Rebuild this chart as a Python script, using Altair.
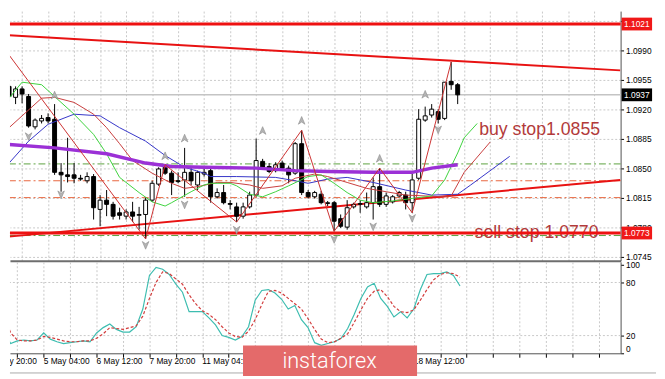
import altair as alt
import pandas as pd

# ---------------- data ----------------
opens = [1.0947, 1.0934, 1.0944, 1.0935, 1.0899, 1.0906, 1.0910, 1.0908, 1.0845, 1.0842,
         1.0842, 1.0838, 1.0835, 1.0840, 1.0801, 1.0812, 1.0807, 1.0797, 1.0793, 1.0798,
         1.0794, 1.0795, 1.0812, 1.0831, 1.0851, 1.0844, 1.0835, 1.0836, 1.0845, 1.0830,
         1.0843, 1.0847, 1.0816, 1.0821, 1.0808, 1.0804, 1.0793, 1.0804, 1.0818, 1.0858,
         1.0852, 1.0847, 1.0856, 1.0850, 1.0844, 1.0879, 1.0821, 1.0816, 1.0819, 1.0808,
         1.0809, 1.0790, 1.0780, 1.0804, 1.0807, 1.0804, 1.0809, 1.0828, 1.0807, 1.0810,
         1.0817, 1.0818, 1.0809, 1.0838, 1.0907, 1.0913, 1.0917, 1.0909, 1.0953, 1.0949]
highs = [1.0950, 1.0947, 1.0947, 1.0938, 1.0909, 1.0913, 1.0915, 1.0926, 1.0856, 1.0886,
         1.0856, 1.0842, 1.0845, 1.0843, 1.0818, 1.0824, 1.0810, 1.0803, 1.0801, 1.0810,
         1.0804, 1.0815, 1.0835, 1.0851, 1.0854, 1.0847, 1.0845, 1.0874, 1.0850, 1.0847,
         1.0849, 1.0850, 1.0826, 1.0830, 1.0812, 1.0809, 1.0809, 1.0822, 1.0885, 1.0861,
         1.0856, 1.0857, 1.0859, 1.0853, 1.0881, 1.0895, 1.0824, 1.0823, 1.0823, 1.0811,
         1.0811, 1.0795, 1.0812, 1.0809, 1.0812, 1.0821, 1.0839, 1.0850, 1.0821, 1.0818,
         1.0823, 1.0822, 1.0843, 1.0920, 1.0923, 1.0926, 1.0920, 1.0952, 1.0976, 1.0951]
lows = [1.0929, 1.0926, 1.0927, 1.0898, 1.0896, 1.0903, 1.0903, 1.0842, 1.0822, 1.0833,
        1.0832, 1.0835, 1.0832, 1.0789, 1.0781, 1.0793, 1.0789, 1.0789, 1.0789, 1.0786,
        1.0777, 1.0766, 1.0810, 1.0829, 1.0842, 1.0818, 1.0832, 1.0816, 1.0830, 1.0824,
        1.0840, 1.0809, 1.0814, 1.0807, 1.0801, 1.0786, 1.0790, 1.0802, 1.0816, 1.0849,
        1.0844, 1.0845, 1.0847, 1.0832, 1.0842, 1.0818, 1.0814, 1.0814, 1.0807, 1.0805,
        1.0775, 1.0779, 1.0777, 1.0802, 1.0797, 1.0802, 1.0789, 1.0804, 1.0804, 1.0808,
        1.0815, 1.0801, 1.0797, 1.0836, 1.0905, 1.0910, 1.0903, 1.0907, 1.0943, 1.0926]
closes = [1.0935, 1.0944, 1.0938, 1.0900, 1.0907, 1.0909, 1.0906, 1.0845, 1.0842, 1.0840,
          1.0838, 1.0837, 1.0840, 1.0803, 1.0812, 1.0807, 1.0793, 1.0794, 1.0798, 1.0793,
          1.0795, 1.0812, 1.0832, 1.0849, 1.0844, 1.0833, 1.0834, 1.0845, 1.0835, 1.0845,
          1.0845, 1.0816, 1.0821, 1.0809, 1.0807, 1.0793, 1.0804, 1.0818, 1.0859, 1.0851,
          1.0846, 1.0854, 1.0850, 1.0842, 1.0879, 1.0821, 1.0816, 1.0821, 1.0809, 1.0809,
          1.0787, 1.0781, 1.0803, 1.0807, 1.0808, 1.0809, 1.0828, 1.0807, 1.0817, 1.0816,
          1.0821, 1.0809, 1.0836, 1.0908, 1.0912, 1.0920, 1.0908, 1.0952, 1.0949, 1.0937]

# moving averages (bar index, price)
ma_idx = [0, 7, 15, 21, 25, 30, 38, 44, 49, 56, 62, 65, 69]
ma_val = [1.0878, 1.0874, 1.0867, 1.0856, 1.0852, 1.0851, 1.0850, 1.0847, 1.0846, 1.0845, 1.0845, 1.0850, 1.0854]

lips_idx = [0, 2, 5, 7, 10, 13, 15, 17, 20, 22, 24, 25, 28, 30, 31, 34, 35, 37, 39, 41, 43, 46, 48,
            50, 52, 54, 56, 59, 62, 65, 67, 69, 70, 72]
lips_val = [1.0933, 1.0952, 1.0949, 1.0935, 1.0914, 1.0890, 1.0867, 1.0839, 1.0821, 1.0810, 1.0805,
            1.0809, 1.0822, 1.0830, 1.0832, 1.0832, 1.0829, 1.0819, 1.0816, 1.0822, 1.0829, 1.0840,
            1.0842, 1.0832, 1.0821, 1.0812, 1.0809, 1.0811, 1.0814, 1.0817, 1.0836, 1.0868, 1.0886, 1.0903]

teeth_idx = [0, 5, 7, 10, 13, 15, 17, 19, 22, 25, 27, 29, 32, 34, 37, 39, 42, 44, 47, 49, 52, 55, 58,
             61, 64, 67, 68, 70, 74]
teeth_val = [1.0898, 1.0933, 1.0934, 1.0928, 1.0914, 1.0898, 1.0879, 1.0859, 1.0844, 1.0832, 1.0826,
             1.0828, 1.0833, 1.0833, 1.0830, 1.0826, 1.0829, 1.0838, 1.0843, 1.0840, 1.0833, 1.0826,
             1.0822, 1.0818, 1.0817, 1.0816, 1.0817, 1.0845, 1.0881]

jaw_idx = [0, 3, 6, 10, 14, 17, 21, 24, 27, 30, 31, 35, 41, 44, 46, 49, 52, 56, 61, 65, 69, 71, 77]
jaw_val = [1.0856, 1.0882, 1.0902, 1.0914, 1.0912, 1.0898, 1.0882, 1.0865, 1.0851, 1.0844, 1.0840,
           1.0840, 1.0839, 1.0835, 1.0832, 1.0837, 1.0839, 1.0833, 1.0824, 1.0818, 1.0819, 1.0830, 1.0864]

zz_idx = [-2, 21, 24, 35, 45, 50, 57, 62, 68]
zz_val = [1.1005, 1.0766, 1.0854, 1.0786, 1.0895, 1.0775, 1.0850, 1.0797, 1.0976]

frac_up_idx = [7, 24, 27, 39, 45, 57, 64]
frac_up_val = [1.0936, 1.0864, 1.0885, 1.0894, 1.0906, 1.0861, 1.0937]
frac_dn_idx = [3, 8, 21, 27, 35, 50, 56, 62, 66]
frac_dn_val = [1.0888, 1.0819, 1.0759, 1.0807, 1.0777, 1.0766, 1.0781, 1.0791, 1.0896]

# trend lines (two end points each)
trend_idx = [-1, 94]
trend_down = [1.1008, 1.0966]
trend_up = [1.0768, 1.0836]

# horizontal levels
thick_levels = [1.1021, 1.0773]
green_levels = [1.0855, 1.0770]
orange_levels = [1.0835, 1.0815]
current_price = 1.0937

box_prices = [1.1021, 1.0937, 1.0773]
box_labels = ["1.1021", "1.0937", "1.0773"]
box_colors = ["#f01818", "#000000", "#f01818"]

note_texts = ["buy stop1.0855", "sell stop 1.0770"]
note_idx = [72.3, 71.6]
note_val = [1.0889, 1.0767]

price_ticks = [1.0745, 1.0780, 1.0815, 1.0850, 1.0885, 1.0920, 1.0955, 1.0990, 1.1025]

stoch_main = [24, 11, 14, 15, 14, 15, 23, 16, 13, 11,
              12, 13, 14, 13, 23, 29, 33, 27, 24, 24,
              30, 50, 88, 97, 95, 89, 78, 69, 47, 47,
              47, 40, 32, 20, 18, 15, 19, 30, 60, 71,
              72, 68, 61, 50, 54, 38, 29, 12, 9, 11,
              13, 17, 28, 44, 62, 75, 79, 62, 53, 41,
              47, 40, 50, 72, 89, 90, 90, 92, 88, 76]
stoch_signal = [42, 23, 15, 14, 14, 15, 19, 18, 16, 14,
                13, 13, 14, 14, 17, 22, 29, 28, 27, 29,
                31, 42, 62, 80, 92, 90, 84, 78, 66, 56,
                48, 44, 38, 30, 23, 19, 18, 25, 38, 55,
                70, 71, 68, 62, 56, 50, 39, 27, 16, 12,
                13, 17, 22, 35, 49, 62, 70, 72, 64, 53,
                47, 46, 49, 60, 72, 83, 89, 91, 90, 86]

time_label_idx = [-2, 6, 14, 22, 30, 38, 46, 54, 62]
time_labels = ["4 May 20:00", "5 May 04:00", "6 May 12:00", "7 May 20:00", "11 May 04:00",
               "12 May 12:00", "13 May 20:00", "15 May 04:00", "18 May 12:00"]
grid_idx = list(range(2, 94, 4))

# ---------------- layout ----------------
W, H1, H2, H3 = 621, 254, 93, 20
XDOM = [0.893, 93.304]
YDOM = [1.073995, 1.103636]
FONT = "Liberation Sans"

candles = pd.DataFrame({"i": list(range(len(opens))), "o": opens, "h": highs, "l": lows, "c": closes})

xs = alt.Scale(domain=XDOM, nice=False, zero=False)
ys = alt.Scale(domain=YDOM, nice=False, zero=False)
x_axis_p = alt.Axis(values=grid_idx, labels=False, ticks=False, domain=True, domainColor="#6e6e6e",
                    domainWidth=2, grid=True, gridDash=[2, 2], gridColor="#c8c8c8", title=None)
y_axis_p = alt.Axis(orient="right", values=price_ticks, format=".4f", tickSize=3, tickColor="#000",
                    labelPadding=2, labelFontSize=8.5, labelFont=FONT, labelColor="#000",
                    domain=True, domainColor="#505050", grid=True, gridDash=[2, 2],
                    gridColor="#c8c8c8", title=None)


def X(f):
    return alt.X(f, type="quantitative", scale=xs, axis=x_axis_p)


def Y(f):
    return alt.Y(f, type="quantitative", scale=ys, axis=y_axis_p)


def line_df(ix, vals):
    return pd.DataFrame({"i": ix, "p": vals})


base_levels = pd.DataFrame({"p": green_levels + orange_levels,
                            "col": ["#5aa03c"] * 2 + ["#e8643c"] * 2})
dashdot = alt.Chart(base_levels).mark_rule(strokeWidth=1, strokeDash=[7, 3, 2, 3]).encode(
    y=Y("p"), color=alt.Color("col:N", scale=None))
cur_line = alt.Chart(pd.DataFrame({"p": [current_price]})).mark_rule(color="#c4c4c4", strokeWidth=1.5).encode(y=Y("p"))

notes = alt.Chart(pd.DataFrame({"i": note_idx, "p": note_val, "t": note_texts})).mark_text(
    align="left", baseline="alphabetic", fontSize=18, font=FONT, color="#b23a3a").encode(
    x=X("i"), y=Y("p"), text="t:N")

thick = alt.Chart(pd.DataFrame({"p": thick_levels})).mark_rule(color="#ee1111", strokeWidth=3).encode(y=Y("p"))

trend_df = pd.concat([
    pd.DataFrame({"i": trend_idx, "p": trend_down, "g": "down"}),
    pd.DataFrame({"i": trend_idx, "p": trend_up, "g": "up"})])
trend = alt.Chart(trend_df).mark_line(color="#e81212", strokeWidth=2, clip=True).encode(
    x=X("i"), y=Y("p"), detail="g:N")

wicks = alt.Chart(candles).mark_rule(color="#000", strokeWidth=1, clip=True).encode(
    x=X("i"), y=Y("l"), y2="h")
bodies = alt.Chart(candles).mark_bar(width=4, stroke="#000", strokeWidth=1, clip=True).encode(
    x=X("i"), y=Y("o"), y2="c",
    fill=alt.condition("datum.c >= datum.o", alt.value("#ffffff"), alt.value("#000000")))

jaw = alt.Chart(line_df(jaw_idx, jaw_val)).mark_line(color="#3434c8", strokeWidth=1, clip=True).encode(x=X("i"), y=Y("p"))
teeth = alt.Chart(line_df(teeth_idx, teeth_val)).mark_line(color="#c83c3c", strokeWidth=1, clip=True).encode(x=X("i"), y=Y("p"))
lips = alt.Chart(line_df(lips_idx, lips_val)).mark_line(color="#3cd23c", strokeWidth=1, clip=True).encode(x=X("i"), y=Y("p"))
ma = alt.Chart(line_df(ma_idx, ma_val)).mark_line(color="#9b30d6", strokeWidth=3.5, clip=True).encode(x=X("i"), y=Y("p"))
zz = alt.Chart(line_df(zz_idx, zz_val)).mark_line(color="#cc3030", strokeWidth=1, clip=True).encode(x=X("i"), y=Y("p"))

UP = "M0,-1L0.75,0.75L0,0.25L-0.75,0.75Z"
DN = "M0,1L0.75,-0.75L0,-0.25L-0.75,-0.75Z"
fr_up = alt.Chart(line_df(frac_up_idx, frac_up_val)).mark_point(
    shape=UP, filled=True, size=80, fill="#b4b4b4", stroke="#8c8c8c", strokeWidth=0.6, opacity=1, clip=True).encode(
    x=X("i"), y=Y("p"))
fr_dn = alt.Chart(line_df(frac_dn_idx, frac_dn_val)).mark_point(
    shape=DN, filled=True, size=80, fill="#b4b4b4", stroke="#8c8c8c", strokeWidth=0.6, opacity=1, clip=True).encode(
    x=X("i"), y=Y("p"))

BOX = "M-1,-0.42L1,-0.42L1,0.42L-1,0.42Z"
box_df = pd.DataFrame({"p": box_prices, "lab": box_labels, "col": box_colors})
boxes = alt.Chart(box_df).mark_point(shape=BOX, filled=True, size=961, opacity=1).encode(
    x=alt.value(W + 16.5), y=Y("p"), color=alt.Color("col:N", scale=None))
box_txt = alt.Chart(box_df).mark_text(color="#ffffff", fontSize=8.5, font=FONT, align="center",
                                      baseline="middle").encode(
    x=alt.value(W + 16.5), y=Y("p"), text="lab:N")

price = alt.layer(dashdot, cur_line, notes, thick, trend, wicks, bodies, jaw, teeth, lips, ma, zz,
                  fr_up, fr_dn, boxes, box_txt).properties(width=W, height=H1)

# ---------------- stochastic panel ----------------
sx_axis = alt.Axis(values=grid_idx, labels=False, tickSize=4, tickColor="#000", domain=True,
                   domainColor="#505050", grid=True, gridDash=[2, 2], gridColor="#c8c8c8", title=None)
sy_scale = alt.Scale(domain=[0, 103.3], nice=False, zero=False)
sy_axis = alt.Axis(orient="right", values=[0, 20, 80, 100], labelFlush=True, tickSize=3,
                   tickColor="#000", labelPadding=2, labelFontSize=8.5, labelFont=FONT,
                   labelColor="#000", domain=True, domainColor="#505050", grid=False, title=None)


def SX(f):
    return alt.X(f, type="quantitative", scale=xs, axis=sx_axis)


def SY(f):
    return alt.Y(f, type="quantitative", scale=sy_scale, axis=sy_axis)


st_df = pd.DataFrame({"i": list(range(len(stoch_main))), "m": stoch_main, "s": stoch_signal})
st_levels = alt.Chart(pd.DataFrame({"v": [20, 80]})).mark_rule(
    color="#c8c8c8", strokeDash=[2, 2], strokeWidth=1).encode(y=SY("v"))
st_main = alt.Chart(st_df).mark_line(color="#3dbdb0", strokeWidth=1.2, clip=True).encode(x=SX("i"), y=SY("m"))
st_sig = alt.Chart(st_df).mark_line(color="#d23c3c", strokeWidth=1.2, strokeDash=[3, 2], clip=True).encode(
    x=SX("i"), y=SY("s"))

stoch = alt.layer(st_levels, st_main, st_sig).properties(width=W, height=H2)

# ---------------- time labels + watermark strip ----------------
lab_df = pd.DataFrame({"i": time_label_idx, "t": time_labels})
labels = alt.Chart(lab_df).mark_text(align="left", baseline="middle", fontSize=8.5, font=FONT,
                                     color="#000", clip=True).encode(
    x=alt.X("i:Q", scale=xs, axis=None), y=alt.value(7), text="t:N")
bottom_line = alt.Chart(pd.DataFrame({"k": [0]})).mark_rule(color="#a8a8a8", strokeWidth=1).encode(
    x=alt.value(0), x2=alt.value(W + 36), y=alt.value(19))
wm = alt.Chart(pd.DataFrame({"k": [0]})).mark_rect(color="#e46a6a").encode(
    x=alt.value(237), x2=alt.value(414), y=alt.value(-9), y2=alt.value(22))
wm_txt = alt.Chart(pd.DataFrame({"t": ["instaforex"]})).mark_text(
    font="Roboto", fontSize=22, fontWeight=300, color="#ffffff", align="center",
    baseline="alphabetic").encode(x=alt.value(325), y=alt.value(14), text="t:N")

strip = alt.layer(labels, bottom_line, wm, wm_txt).properties(width=W, height=H3)

chart = alt.vconcat(price, stoch, strip, spacing=1, bounds="flush").properties(
    padding={"left": 0, "top": 0, "right": 0, "bottom": 0}, background="#ffffff"
).configure_view(strokeWidth=0).resolve_scale(x="independent")

chart.save("out.html", embed_options={"renderer": "svg", "actions": False})
